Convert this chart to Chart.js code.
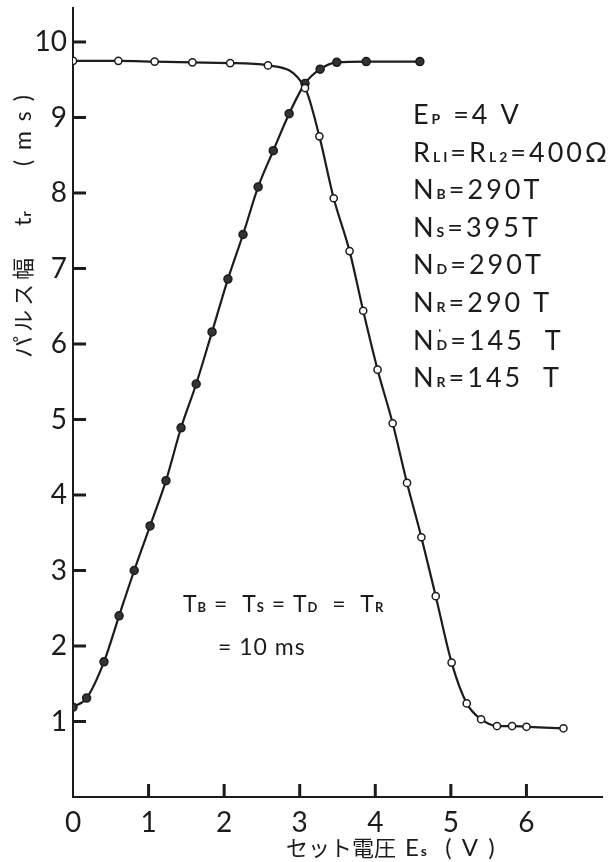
<!DOCTYPE html>
<html>
<head>
<meta charset="utf-8">
<script src="https://cdn.jsdelivr.net/npm/chart.js@4.4.1/dist/chart.umd.min.js"></script>
<style>
  html, body { margin: 0; padding: 0; background: #fff; }
  canvas { display: block; }
</style>
</head>
<body>
<canvas id="chart" width="615" height="862"></canvas>
<script>
// rising curve (filled dots) - set voltage Es (V) vs pulse width tr (ms)
const riseX = [0, 0.18, 0.41, 0.61, 0.81, 1.02, 1.23, 1.43, 1.63, 1.84, 2.05, 2.25, 2.45, 2.65, 2.86, 3.07, 3.27, 3.49, 3.88, 4.59];
const riseY = [1.19, 1.31, 1.79, 2.40, 3.00, 3.59, 4.19, 4.89, 5.47, 6.16, 6.86, 7.45, 8.08, 8.56, 9.05, 9.45, 9.64, 9.73, 9.74, 9.74];
// falling curve (open dots)
const fallX = [0, 0.60, 1.08, 1.58, 2.08, 2.58, 3.07, 3.26, 3.45, 3.66, 3.84, 4.03, 4.23, 4.42, 4.61, 4.80, 5.01, 5.21, 5.40, 5.61, 5.81, 6.00, 6.49];
const fallY = [9.75, 9.75, 9.74, 9.73, 9.72, 9.69, 9.39, 8.75, 7.93, 7.23, 6.44, 5.66, 4.95, 4.16, 3.44, 2.66, 1.78, 1.24, 1.03, 0.94, 0.94, 0.93, 0.91];

const xTicks = [0, 1, 2, 3, 4, 5, 6];
const yTicks = [1, 2, 3, 4, 5, 6, 7, 8, 9, 10];

const INK = '#1c1c1c';
const FONT = 'Lato, "Liberation Sans", sans-serif';
const CJK = '"Noto Sans CJK JP", sans-serif';

function pts(xs, ys) {
  return xs.map((x, i) => ({ x: x, y: ys[i] }));
}

// draw a run of [text, font] pieces left to right
function run(ctx, x, y, parts, spacing) {
  parts.forEach(p => {
    ctx.font = p[1];
    ctx.letterSpacing = (spacing || 0) + 'px';
    ctx.fillText(p[0], x, y);
    x += ctx.measureText(p[0]).width;
  });
  ctx.letterSpacing = '0px';
  return x;
}

const textPlugin = {
  id: 'texts',
  afterDraw(chart) {
    const ctx = chart.ctx;
    const xs = chart.scales.x, ys = chart.scales.y;
    const area = chart.chartArea;
    ctx.save();
    ctx.fillStyle = INK;
    // inward tick marks
    xTicks.forEach(v => {
      if (v === 0) return;
      const px = xs.getPixelForValue(v);
      ctx.fillRect(px - 1.5, area.bottom - 13, 3, 13);
    });
    yTicks.forEach(v => {
      const py = ys.getPixelForValue(v);
      ctx.fillRect(area.left, py - 1.5, 13, 3);
    });

    ctx.textBaseline = 'alphabetic';
    ctx.textAlign = 'left';
    const big = '27px ' + FONT;
    const sub = 'bold 14px ' + FONT;
    const lx = 413;
    let by = 124;
    const step = 37.6;
    run(ctx, lx, by, [['E', big], ['P', sub], [' =4 V', big]], 3);
    by += step;
    run(ctx, lx, by, [['R', big], ['LI', sub], ['=R', big], ['L2', sub], ['=400Ω', big]], 3);
    by += step;
    run(ctx, lx, by, [['N', big], ['B', sub], ['=290T', big]], 3);
    by += step;
    run(ctx, lx, by, [['N', big], ['S', sub], ['=395T', big]], 3);
    by += step;
    run(ctx, lx, by, [['N', big], ['D', sub], ['=290T', big]], 3);
    by += step;
    run(ctx, lx, by, [['N', big], ['R', sub], ['=290 T', big]], 3);
    by += step;
    let ex = run(ctx, lx, by, [['N', big]], 3);
    ctx.font = 'bold 12px ' + FONT;
    ctx.fillText("'", ex + 2, by - 13);
    run(ctx, ex, by, [['D', sub], ['=145  T', big]], 3);
    by += step;
    run(ctx, lx, by, [['N', big], ['R', sub], ['=145  T', big]], 3);

    const mid = '23px ' + FONT;
    const sub2 = 'bold 13px ' + FONT;
    run(ctx, 183, 612, [['T', mid], ['B', sub2], [' =  T', mid], ['S', sub2], [' = T', mid], ['D', sub2],
      ['  =  T', mid], ['R', sub2]], 1);
    run(ctx, 218, 655, [['= 10 ms', mid]], 1);

    // x axis title
    let tx = run(ctx, 286, 856, [['セット電圧', '22px ' + CJK]], 0);
    run(ctx, tx + 9, 856, [['E', '24px ' + FONT], ['s', 'bold 14px ' + FONT], ['  ( V )', '24px ' + FONT]], 2);

    // y axis title, rotated
    ctx.translate(31, 358);
    ctx.rotate(-Math.PI / 2);
    run(ctx, 0, 0, [['パルス幅', '22px ' + CJK]], 4);
    run(ctx, 132, 0, [['t', '24px ' + FONT], ['r', 'bold 14px ' + FONT]], 1);
    run(ctx, 192, 0, [['( m s )', '23px ' + FONT]], 2);
    ctx.restore();
  }
};

new Chart(document.getElementById('chart'), {
  type: 'line',
  data: {
    datasets: [
      {
        data: pts(fallX, fallY),
        borderColor: INK,
        borderWidth: 2.2,
        cubicInterpolationMode: 'monotone',
        pointRadius: 3.6,
        pointBackgroundColor: '#fff',
        pointBorderColor: INK,
        pointBorderWidth: 1.5
      },
      {
        data: pts(riseX, riseY),
        borderColor: INK,
        borderWidth: 2.2,
        cubicInterpolationMode: 'monotone',
        pointRadius: 4,
        pointBackgroundColor: '#333',
        pointBorderColor: INK,
        pointBorderWidth: 1.5
      }
    ]
  },
  options: {
    responsive: false,
    animation: false,
    devicePixelRatio: 1,
    layout: { padding: { top: 8, right: 13, left: 0, bottom: 0 } },
    plugins: { legend: { display: false }, tooltip: { enabled: false } },
    scales: {
      x: {
        type: 'linear',
        min: 0,
        max: 7,
        afterBuildTicks: s => { s.ticks = xTicks.map(v => ({ value: v })); },
        afterFit: s => { s.height = 65; s.paddingLeft = 0; s.paddingRight = 0; },
        grid: { display: false, drawTicks: false },
        border: { display: true, color: INK, width: 2 },
        ticks: { color: INK, padding: 9, font: { family: FONT, size: 28 } }
      },
      y: {
        type: 'linear',
        min: 0,
        max: 10.45,
        afterBuildTicks: s => { s.ticks = yTicks.map(v => ({ value: v })); },
        afterFit: s => { s.width = 73; s.paddingTop = 0; s.paddingBottom = 0; },
        grid: { display: false, drawTicks: false },
        border: { display: true, color: INK, width: 2 },
        ticks: { color: INK, padding: 6, font: { family: FONT, size: 28 } }
      }
    }
  },
  plugins: [textPlugin]
});
</script>
</body>
</html>
